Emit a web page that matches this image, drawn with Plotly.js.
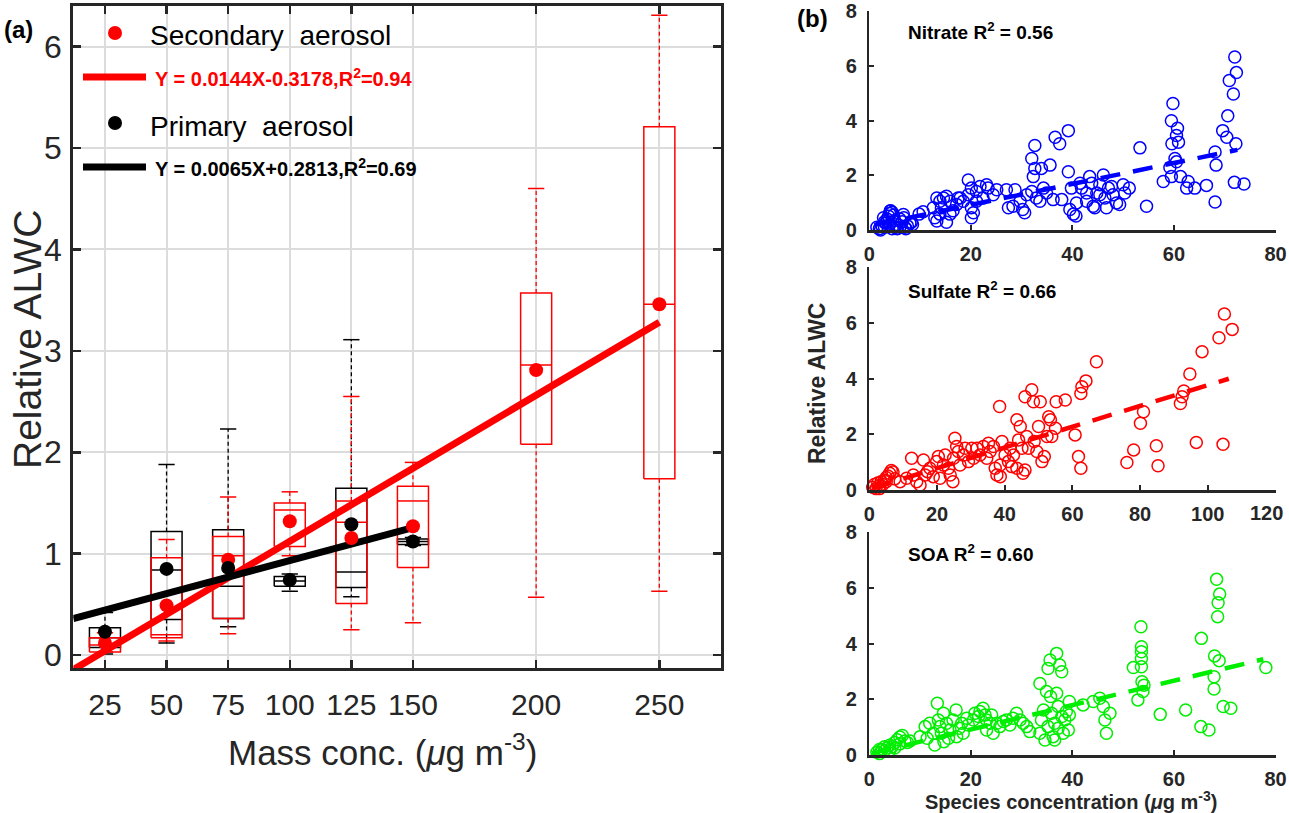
<!DOCTYPE html>
<html><head><meta charset="utf-8">
<script src="https://cdn.plot.ly/plotly-3.0.1.min.js"></script>
<style>html,body{margin:0;padding:0;background:#fff}#chart{width:1289px;height:813px}</style>
</head><body><div id="chart"></div>
<script>
// ---------- Panel (a): binned box statistics ----------
const binTicks = [25,50,75,100,125,150,200,250];

const secX      = [25,50,75,100,125,150,200,250];
const secLower  = [0.03,0.14,0.21,0.98,0.25,0.32,0.57,0.63];
const secQ1     = [0.03,0.17,0.36,1.07,0.51,0.865,2.08,1.74];
const secMedian = [0.10,0.20,0.98,1.43,1.31,1.52,2.86,3.46];
const secQ3     = [0.17,0.96,1.17,1.50,1.52,1.665,3.57,5.21];
const secUpper  = [0.22,1.14,1.56,1.61,2.55,1.90,4.60,6.31];
const secMean   = [0.12,0.49,0.94,1.32,1.155,1.27,2.81,3.46];

const priX      = [25,50,75,100,125,150];
const priLower  = [0.01,0.12,0.28,0.63,0.575,1.08];
const priQ1     = [0.075,0.35,0.36,0.68,0.667,1.09];
const priMedian = [0.17,0.84,0.68,0.73,0.82,1.12];
const priQ3     = [0.27,1.22,1.237,0.776,1.645,1.145];
const priUpper  = [0.42,1.88,2.23,0.80,3.11,1.16];
const priMean   = [0.23,0.85,0.86,0.74,1.29,1.12];

// regression: [secondary, primary]
const fitSlope     = [0.0144, 0.0065];
const fitIntercept = [-0.3178, 0.2813];
const fitXStart    = [12.15, 12.15];
const fitXEnd      = [250, 150];
const fitLabels    = ['Y = 0.0144X-0.3178,R<sup>2</sup>=0.94', 'Y = 0.0065X+0.2813,R<sup>2</sup>=0.69'];
const seriesNames  = ['Secondary  aerosol', 'Primary  aerosol'];

// ---------- Panel (b): species scatter ----------
const nitrateX = [1.5,2,2.2,2.5,2.8,3,3,3.2,3.5,3.8,4,4.1,4.2,4.5,4.8,4,4.5,5,5,5.5,5.5,6,6,6.5,6.7,6.8,7,7.2,7.5,8,8.3,8.5,
 9.8,10.6,12.6,12.9,13.3,13.3,13.9,13.9,14.2,14.6,15.2,15.2,15.9,15.9,16.5,17.2,17.5,17.9,18.5,19.5,19.5,20.1,20.1,20.1,20.5,21.1,21.1,21.8,22.4,23.1,23.4,24.4,25.1,
 27,27.4,28.3,28.7,29.7,30.2,30.6,31,32,32,32.3,32.6,32.6,32.9,33.6,33.9,34.3,34.9,35.6,36.2,36.6,37.5,37.9,39.2,39.2,39.5,39.8,40.2,40.7,40.8,
 41.5,41.8,42.8,42.8,43.4,43.8,44.1,44.4,44.8,45.4,45.4,46.1,46.4,46.7,47.1,47.7,48,48.7,49.3,50,50.3,51.2,
 53.3,54.6,57.9,59.2,59.5,59.8,59.5,59.6,60.2,60.5,60.7,60.5,60.9,61.3,62.5,62.8,64.1,66.4,68.1,68.3,68.1,69.6,70.4,70.6,70.9,71.7,71.98,72.3,72.2,71.9,73.8];
const nitrateY = [0.1,0.05,0,0.15,0.45,0.3,0.1,0.25,0.4,0.5,0.6,0.69,0.7,0.65,0.55,0.2,0.05,0.1,0.35,0.2,0.05,0.1,0.4,0.3,0.57,0.45,0.1,0.05,0.15,0.25,0.28,0.2,
 0.58,0.67,0.81,0.45,1.17,0.33,1.05,0.58,0.81,1.17,0.28,1.23,1.05,0.58,0.7,0.93,1.17,1.17,1.05,1.83,1.29,1.53,0.81,0.45,0.63,1.05,1.41,1.59,1.17,1.65,1.53,1.29,1.47,
 1.47,0.81,0.87,1.47,1.05,0.75,0.63,1.29,1.41,2.61,1.95,2.25,3.09,1.17,1.05,2.25,1.53,1.35,2.37,1.11,3.39,3.15,1.11,3.63,2.13,0.75,1.53,0.58,0.51,0.99,
 1.71,1.53,1.35,1.05,1.95,1.71,0.87,0.81,1.35,1.65,1.29,2.01,1.17,0.81,1.53,1.59,1.29,0.99,0.93,1.65,1.35,1.53,
 3.0,0.87,1.77,2.28,3.99,4.62,1.95,3.15,2.61,2.49,3.72,3.45,3.21,1.95,1.53,1.77,1.53,1.63,2.85,2.37,1.02,3.63,3.39,4.17,5.46,4.97,6.32,5.75,3.15,1.74,1.68];

const sulfateX = [1,1.5,2,2.5,3,3,3.5,4,4.5,5,5,5.5,6,6.5,7,7.5,
 9.1,11,12.5,13,14,15,16,16.5,17.2,17.9,18.9,19.9,20.4,20.9,21.9,22.4,23.4,23.9,24.7,24.9,
 25.3,25.8,26.3,26.8,27.8,28.3,29.3,30.3,30.8,31.8,32.7,33.7,34.7,35.2,35.7,36.7,37.2,37.7,38.5,38.7,
 39.2,38.7,40.1,41.1,41.6,42.1,42.6,43.6,43.6,44.1,44.6,45.1,45.4,46,46,46.5,47,48,48.5,48.7,
 49.5,50,50.5,51,51.7,52.5,53,53.5,53.9,55,55.2,57.9,60.8,61.8,62.5,62.5,62.8,64,67.1,76.1,
 78.1,80.1,81,84.8,85.3,91.9,92.4,92.9,94.7,96.6,98.3,103.3,104.5,104.9,107.2];
const sulfateY = [0.1,0.2,0.05,0.25,0.15,0.05,0.3,0.2,0.35,0.45,0.3,0.5,0.6,0.7,0.65,0.4,
 0.3,0.42,1.14,0.54,0.3,0.18,1.08,0.54,0.66,0.78,0.48,1.02,1.2,0.42,0.9,1.26,0.78,0.54,0.3,1.14,
 1.86,1.56,1.38,0.9,1.26,1.5,1.02,1.5,1.14,1.5,1.26,1.56,1.14,1.68,1.38,1.56,0.78,0.54,3.0,0.48,
 1.74,0.9,1.26,1.02,1.5,0.84,1.26,2.52,0.78,1.8,2.28,1.5,0.6,3.35,0.72,1.92,1.5,3.6,3.17,1.74,
 1.38,2.28,3.17,1.02,1.2,1.92,2.63,2.52,1.92,2.22,3.17,3.23,1.98,1.2,0.78,3.47,3.71,3.92,4.61,0.99,
 1.44,2.4,2.81,1.59,0.87,3.11,3.35,3.56,4.17,1.71,4.97,5.47,1.64,6.32,5.77];

const soaX = [1.5,2,2.5,3,3,3.5,4,4.5,5,5.5,6,6.5,6,7,7.5,8,4,2,5,
 10,11,11.4,11.9,12.6,12.9,13.4,13.6,13.9,14.2,14.6,14.7,15.2,15.6,15.9,16.5,17.1,17.2,17.7,18.2,
 18.5,19.2,19.5,20.5,20.8,21.5,21.8,22.4,22.8,23.1,23.1,23.8,24.1,24.4,25.1,25.7,26.4,27,27.7,28.3,
 29,29.7,30.3,31,31.6,33.6,33.6,33.9,34.3,34.6,34.9,35.2,35.2,35.6,35.7,35.9,36.2,36.5,36.9,36.9,
 37.2,37.2,37.5,37.9,37.9,38.2,38.5,38.8,39.2,39.4,39.4,36.5,42.1,44.1,45.4,46.1,46.4,46.7,47.4,52,
 52.9,53.5,53.6,53.6,53.6,53.6,53.7,54.1,53.9,57.3,62.3,65.3,65.4,66.9,67.9,67.9,68,68.4,68.6,68.7,
 69,68.9,69.7,71.2,78.1];
const soaY = [0.1,0.05,0.2,0.15,0.3,0.25,0.35,0.3,0.45,0.55,0.65,0.7,0.4,0.5,0.45,0.5,0.15,0.2,0.25,
 0.66,1.02,0.6,1.14,0.78,0.36,1.86,1.26,1.02,0.78,1.5,0.48,1.14,0.6,0.9,1.26,1.62,0.66,0.96,1.14,
 0.78,1.32,1.08,1.26,1.5,1.38,1.56,1.68,1.44,1.26,0.9,1.14,1.44,0.78,1.14,1.02,1.2,1.26,1.08,1.32,
 1.5,1.26,1.14,1.02,0.84,2.57,0.78,1.26,1.62,0.54,2.28,3.11,1.02,3.41,2.1,1.5,0.66,1.14,3.65,2.22,
 1.74,0.96,3.23,2.99,1.38,0.78,1.26,1.56,0.9,1.92,1.44,0.54,1.8,1.92,2.04,1.74,1.26,0.78,1.5,3.14,
 1.98,4.61,3.89,3.71,3.47,3.17,2.63,2.51,2.28,1.46,1.62,1.02,4.19,0.9,2.37,2.81,3.56,6.31,4.97,5.47,
 5.78,3.39,1.74,1.68,3.14];

// species regression lines: [nitrate, sulfate, SOA]
const speciesNames   = ['Nitrate', 'Sulfate', 'SOA'];
const speciesR2      = ['0.56', '0.66', '0.60'];
const speciesSlope   = [0.0383, 0.0373, 0.0438];
const speciesInt     = [0.15, 0.035, 0.04];
const speciesFitX0   = [1.0, 0.7, 0.5];
const speciesFitX1   = [72.5, 106.2, 77.6];
const speciesXMax    = [80, 120, 80];
const speciesColors  = ['#0000ff', '#ff0000', '#00ee00'];

// ---------- helpers ----------
const W = 1289, H = 813;
const px = v => v / W;
const py = v => 1 - v / H;
const INK = '#262626';
const SANS = '"Liberation Sans", Arial, sans-serif';

function boxTraces(xs, lo, q1, med, q3, hi, color) {
  const hw = 6.3, cw = 3.3;
  const bx=[], by=[], mx=[], my=[], wx=[], wy=[], cx=[], cy=[];
  xs.forEach((x, i) => {
    bx.push(x-hw, x+hw, x+hw, x-hw, x-hw, null); by.push(q1[i], q1[i], q3[i], q3[i], q1[i], null);
    mx.push(x-hw, x+hw, null); my.push(med[i], med[i], null);
    wx.push(x, x, null, x, x, null); wy.push(q3[i], hi[i], null, q1[i], lo[i], null);
    cx.push(x-cw, x+cw, null, x-cw, x+cw, null); cy.push(hi[i], hi[i], null, lo[i], lo[i], null);
  });
  const base = {type:'scatter', mode:'lines', xaxis:'x', yaxis:'y', hoverinfo:'skip', showlegend:false};
  return [
    Object.assign({}, base, {x:wx, y:wy, line:{color, width:1.3, dash:'4px,3px'}}),
    Object.assign({}, base, {x:cx, y:cy, line:{color, width:1.5}}),
    Object.assign({}, base, {x:bx, y:by, line:{color, width:1.5}}),
    Object.assign({}, base, {x:mx, y:my, line:{color, width:1.5}})
  ];
}

function fitLine(slope, intercept, x0, x1) {
  return {x:[x0, x1], y:[slope*x0 + intercept, slope*x1 + intercept]};
}

const traces = [];
traces.push(...boxTraces(priX, priLower, priQ1, priMedian, priQ3, priUpper, '#000000'));
traces.push(...boxTraces(secX, secLower, secQ1, secMedian, secQ3, secUpper, '#ff0000'));

const fitColors = ['#ff0000', '#000000'];
[0, 1].forEach(k => {
  const f = fitLine(fitSlope[k], fitIntercept[k], fitXStart[k], fitXEnd[k]);
  traces.push({type:'scatter', mode:'lines', x:f.x, y:f.y, xaxis:'x', yaxis:'y',
    line:{color:fitColors[k], width:7}, showlegend:false, hoverinfo:'skip'});
});
traces.push({type:'scatter', mode:'markers', x:secX, y:secMean, xaxis:'x', yaxis:'y',
  marker:{color:'#ff0000', size:14}, showlegend:false});
traces.push({type:'scatter', mode:'markers', x:priX, y:priMean, xaxis:'x', yaxis:'y',
  marker:{color:'#000000', size:14}, showlegend:false});

const speciesData = [[nitrateX, nitrateY], [sulfateX, sulfateY], [soaX, soaY]];
speciesData.forEach((d, k) => {
  const ax = String(k + 2);
  traces.push({type:'scatter', mode:'markers', x:d[0], y:d[1], xaxis:'x'+ax, yaxis:'y'+ax,
    cliponaxis:false, showlegend:false,
    marker:{symbol:'circle-open', size:12, color:speciesColors[k], line:{width:1.5}}});
  const f = fitLine(speciesSlope[k], speciesInt[k], speciesFitX0[k], speciesFitX1[k]);
  traces.push({type:'scatter', mode:'lines', x:f.x, y:f.y, xaxis:'x'+ax, yaxis:'y'+ax,
    showlegend:false, hoverinfo:'skip', line:{color:speciesColors[k], width:4.5, dash:'20px,13px'}});
});

// ---------- layout ----------
const layout = {
  width: W, height: H,
  margin: {l:0, r:0, t:0, b:0},
  paper_bgcolor: '#ffffff', plot_bgcolor: 'rgba(0,0,0,0)',
  showlegend: false,
  xaxis: {
    domain:[px(73.3), px(720.7)], range:[12.15, 274.9],
    tickvals: binTicks, ticktext: binTicks.map(String),
    ticks:'inside', ticklen:8, tickwidth:2.5, tickcolor:INK,
    showline:true, linecolor:INK, linewidth:3, mirror:'ticks',
    showgrid:true, gridcolor:'#dcdcdc', gridwidth:2, zeroline:false,
    tickfont:{family:SANS, size:30, color:INK}, ticklabelstandoff:8
  },
  yaxis: {
    domain:[py(668.3), py(6)], range:[-0.13, 6.40],
    tickvals:[0,1,2,3,4,5,6],
    ticks:'inside', ticklen:8, tickwidth:2.5, tickcolor:INK,
    showline:true, linecolor:INK, linewidth:3, mirror:'ticks',
    showgrid:true, gridcolor:'#dcdcdc', gridwidth:2, zeroline:false,
    tickfont:{family:SANS, size:32, color:INK}, ticklabelstandoff:2
  },
  annotations: [], shapes: []
};

const domainsY = [[py(230), py(11)], [py(490), py(267.3)], [py(755), py(532.3)]];
const edgeLabelX = 1266; // tick label that sits at the right page edge
[0,1,2].forEach(k => {
  const ax = String(k + 2);
  const xmax = speciesXMax[k];
  const xt = []; for (let v = 0; v <= xmax; v += 20) xt.push(v);
  const xtt = xt.map(v => (v === 120 ? '' : String(v)));
  layout['xaxis'+ax] = {
    domain:[px(869.3), px(1275.5)], range:[0, xmax], anchor:'y'+ax,
    tickvals:xt, ticktext:xtt, ticks:'inside', ticklen:5, tickwidth:2, tickcolor:INK,
    showline:true, linecolor:INK, linewidth:2.5, mirror:false,
    showgrid:false, zeroline:false, ticklabeloverflow:'allow',
    tickfont:{family:SANS, size:20, color:INK, weight:'bold'}, ticklabelstandoff:4
  };
  layout['yaxis'+ax] = {
    domain:domainsY[k], range:[0, 8], anchor:'x'+ax,
    tickvals:[0,2,4,6,8], ticks:'inside', ticklen:5, tickwidth:2, tickcolor:INK,
    showline:true, linecolor:INK, linewidth:2.5, mirror:false,
    showgrid:false, zeroline:false, ticklabeloverflow:'allow',
    tickfont:{family:SANS, size:20, color:INK, weight:'bold'}, ticklabelstandoff:6
  };
});

function note(text, x, y, opts) {
  layout.annotations.push(Object.assign({text, xref:'paper', yref:'paper', x:px(x), y:py(y),
    showarrow:false, xanchor:'left', yanchor:'middle'}, opts));
}

// "120" tick label of the sulfate axis, kept inside the page
note('<b>120</b>', edgeLabelX, 513, {xanchor:'center', font:{family:SANS, size:20, color:INK}});

// panel labels and titles
note('<b>(a)</b>', 2, 30, {font:{family:SANS, size:24, color:'#000'}});
note('<b>(b)</b>', 795, 18, {font:{family:SANS, size:24, color:'#000'}});
note('Relative ALWC', 27, 340, {xanchor:'center', textangle:-90, font:{family:SANS, size:39, color:INK}});
note('Mass conc. (<i>μ</i>g m<sup>-3</sup>)', 382, 750, {xanchor:'center', font:{family:SANS, size:35, color:INK}});
note('<b>Relative ALWC</b>', 817, 384, {xanchor:'center', textangle:-90, font:{family:SANS, size:23, color:INK}});
note('<b>Species concentration (<i>μ</i>g m<sup>-3</sup>)</b>', 1071, 800, {xanchor:'center', font:{family:SANS, size:20, color:INK}});

const speciesLabelY = [31, 290, 553];
[0,1,2].forEach(k => {
  note('<b>' + speciesNames[k] + ' R<sup>2</sup> = ' + speciesR2[k] + '</b>', 906, speciesLabelY[k],
    {font:{family:SANS, size:19, color:'#000'}});
});

// legend of panel (a)
const legRowsY = [[33, 77], [123, 167]];
[0, 1].forEach(k => {
  const dotY = legRowsY[k][0], lineY = legRowsY[k][1];
  layout.shapes.push({type:'circle', xref:'paper', yref:'paper', xsizemode:'pixel', ysizemode:'pixel',
    xanchor:px(115), yanchor:py(dotY), x0:-7, x1:7, y0:-7, y1:7,
    fillcolor:fitColors[k], line:{width:0}});
  note(seriesNames[k], 148, dotY + 3, {font:{family:SANS, size:28, color:'#000'}});
  layout.shapes.push({type:'line', xref:'paper', yref:'paper', x0:px(83), x1:px(146), y0:py(lineY), y1:py(lineY),
    line:{color:fitColors[k], width:7}});
  note('<b>' + fitLabels[k] + '</b>', 153, lineY, {font:{family:SANS, size:20, color:fitColors[k]}});
});

Plotly.newPlot('chart', traces, layout, {staticPlot:true, displayModeBar:false});
</script></body></html>
